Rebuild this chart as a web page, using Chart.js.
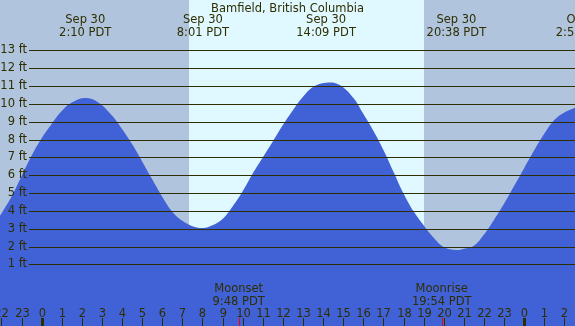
<!DOCTYPE html>
<html>
<head>
<meta charset="utf-8">
<script src="https://cdn.jsdelivr.net/npm/chart.js@4/dist/chart.umd.min.js"></script>
<style>
html,body{margin:0;padding:0;background:#b0c4de;}
canvas{display:block;}
</style>
</head>
<body>
<canvas id="c" width="575" height="326"></canvas>
<script>
// ---- data ----
const chartTitle = 'Bamfield, British Columbia';
// hours since midnight Sep 30 (PDT) and tide height in feet
const tideHours = [-2.07,-1.5,-1,-0.5,0,0.5,1,1.5,2.17,2.8,3.5,4,4.5,5,5.5,6,6.5,7,7.5,8.02,
  8.5,9,9.5,10,10.5,11,11.5,12,12.5,13,13.5,14.15,14.8,15.5,16,16.5,17,17.5,18,18.5,19,19.5,20,20.63,
  21,21.5,22,22.5,23,23.5,24,24.5,25,25.5,26,26.53];
const tideFeet  = [3.73,4.8,5.95,7.1,8.08,8.88,9.6,10.08,10.33,10.1,9.35,8.6,7.75,6.78,5.78,4.8,3.96,3.45,3.15,3.05,
  3.2,3.55,4.25,5.1,6.1,7.0,7.9,8.82,9.65,10.4,10.95,11.19,11.08,10.35,9.45,8.5,7.42,6.2,4.98,3.98,3.2,2.5,1.98,1.81,
  1.88,2.05,2.68,3.5,4.4,5.4,6.4,7.4,8.33,9.1,9.52,9.79];
const extremeHours = [2.17, 8.02, 14.15, 20.63, 26.87];
const extremeDates = ['Sep 30','Sep 30','Sep 30','Sep 30','Oct 1'];
const extremeTimes = ['2:10 PDT','8:01 PDT','14:09 PDT','20:38 PDT','2:52 PDT'];
const moonHours = [9.8, 19.9];
const moonNames = ['Moonset','Moonrise'];
const moonTimes = ['9:48 PDT','19:54 PDT'];
const sunriseHour = 7.33;
const sunsetHour = 19.02;
const feetTicks = [1,2,3,4,5,6,7,8,9,10,11,12,13];
const hourTicks = [-2,-1,0,1,2,3,4,5,6,7,8,9,10,11,12,13,14,15,16,17,18,19,20,21,22,23,24,25,26];

// ---- styles ----
const NIGHT = '#b0c4de', DAY = '#e0f8ff', WATER = '#4162d7', INK = '#2e2e00';
const FONT = '11.5px "DejaVu Sans"';

const points = tideHours.map((h,i)=>({x:h, y:tideFeet[i]}));

const decor = {
  id:'decor',
  beforeDatasetsDraw(chart){
    const {ctx, chartArea:a, scales:{x}} = chart;
    ctx.save();
    ctx.fillStyle = NIGHT;
    ctx.fillRect(a.left, a.top, a.right-a.left, a.bottom-a.top);
    const x0 = Math.round(x.getPixelForValue(sunriseHour));
    const x1 = Math.round(x.getPixelForValue(sunsetHour));
    ctx.fillStyle = DAY;
    ctx.fillRect(x0, a.top, x1-x0, a.bottom-a.top);
    ctx.restore();
  },
  afterDatasetsDraw(chart){
    const {ctx, chartArea:a, scales:{x,y}} = chart;
    ctx.save();
    ctx.strokeStyle = INK; ctx.lineWidth = 1;
    ctx.font = FONT; ctx.fillStyle = INK;
    ctx.textAlign = 'right'; ctx.textBaseline = 'middle';
    feetTicks.forEach(f=>{
      const py = Math.round(y.getPixelForValue(f)) + 0.5;
      ctx.beginPath(); ctx.moveTo(29, py); ctx.lineTo(a.right, py); ctx.stroke();
      ctx.fillText(f + ' ft', 27, py);
    });
    ctx.textAlign = 'center'; ctx.textBaseline = 'alphabetic';
    ctx.fillText(chartTitle, 287.5, 11.5);
    extremeHours.forEach((h,i)=>{
      const px = x.getPixelForValue(h);
      ctx.fillText(extremeDates[i], px, 22.5);
      ctx.fillText(extremeTimes[i], px, 35.5);
    });
    moonHours.forEach((h,i)=>{
      const px = x.getPixelForValue(h);
      ctx.fillText(moonNames[i], px, 292);
      ctx.fillText(moonTimes[i], px, 304.5);
    });
    hourTicks.forEach(h=>{
      const px = Math.round(x.getPixelForValue(h));
      if (px < -2 || px > a.right + 2) return;
      const lbl = String(((h % 24) + 24) % 24);
      ctx.fillText(lbl, px + 0.5, 316.5);
      if (h % 24 === 0) ctx.fillRect(px - 1, 318, 3, 8);
      else ctx.fillRect(px, 318, 1, 8);
    });
    ctx.fillStyle = '#ff0000';
    moonHours.forEach(h=>{
      const px = Math.round(x.getPixelForValue(h));
      ctx.fillRect(px, 318, 1, 8);
    });
    ctx.restore();
  }
};

new Chart(document.getElementById('c'), {
  type:'line',
  data:{datasets:[{
    data: points,
    fill:'start',
    backgroundColor: WATER,
    borderColor: WATER,
    borderWidth: 0,
    pointRadius: 0,
    tension: 0.4
  }]},
  options:{
    responsive:false,
    animation:false,
    events:[],
    layout:{padding:0},
    plugins:{legend:{display:false}, tooltip:{enabled:false}, title:{display:false}},
    scales:{
      x:{type:'linear', min:-2.07, max:26.53, display:false},
      y:{type:'linear', min:-2.45, max:15.83, display:false}
    }
  },
  plugins:[decor]
});
</script>
</body>
</html>
